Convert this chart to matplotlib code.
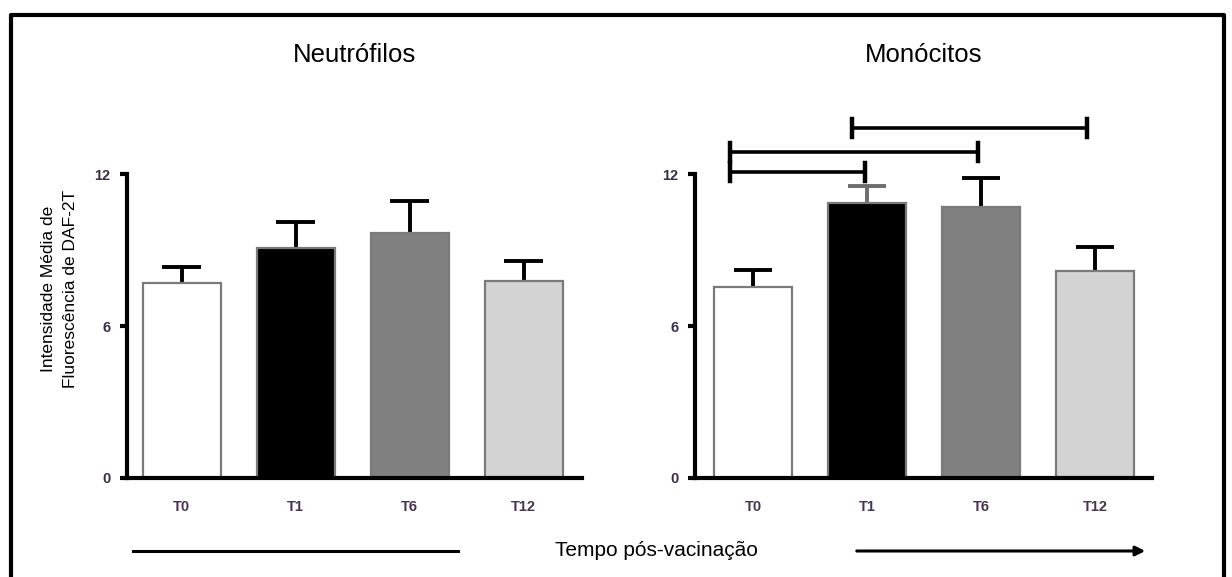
import matplotlib.pyplot as plt
from matplotlib.lines import Line2D
from matplotlib.patches import FancyArrowPatch

plt.rcParams['font.family'] = ['Liberation Sans', 'DejaVu Sans']

tempos = ['T0', 'T1', 'T6', 'T12']
cores = ['white', 'black', '#808080', '#d3d3d3']

# media e erro padrao da fluorescencia DAF-2T
neutro_media = [7.70, 9.08, 9.67, 7.78]
neutro_erro = [0.63, 1.03, 1.27, 0.79]
mono_media = [7.54, 10.86, 10.70, 8.17]
mono_erro = [0.67, 0.67, 1.14, 0.95]

# comparacoes significativas (monocitos): inicio, fim, altura
mono_sig = [(-0.2, 0.98, 12.08), (-0.2, 1.97, 12.87), (0.87, 2.93, 13.82)]

fig = plt.figure(figsize=(12.32, 5.77), dpi=100)

ax1 = fig.add_axes([0.1031, 0.1716, 0.3693, 0.5268])
ax2 = fig.add_axes([0.5641, 0.1716, 0.3709, 0.5268])


def painel(ax, media, erro, titulo, xlim, cor_erro):
    x = list(range(len(tempos)))
    ax.bar(x, media, width=0.68, color=cores, edgecolor='#7a7a7a',
           linewidth=1.6, zorder=2)
    # so a metade superior do erro
    for i in x:
        topo = media[i] + erro[i]
        ax.plot([i, i], [media[i], topo], color=cor_erro[i], lw=2.8,
                zorder=1, solid_capstyle='butt')
        ax.plot([i - 0.17, i + 0.17], [topo, topo], color=cor_erro[i],
                lw=2.8, zorder=1, solid_capstyle='butt')
    ax.set_xlim(*xlim)
    ax.set_ylim(0, 12)
    ax.set_yticks([0, 6, 12])
    ax.set_yticklabels(['0', '6', '12'], fontsize=10.5, fontweight='bold',
                       color='#3d2d48')
    ax.set_xticks(x)
    ax.set_xticklabels(tempos, fontsize=10.5, fontweight='bold',
                       color='#4a3550')
    ax.tick_params(axis='y', length=5, width=3, pad=7)
    ax.tick_params(axis='x', length=0, pad=16)
    for s in ['top', 'right']:
        ax.spines[s].set_visible(False)
    for s in ['left', 'bottom']:
        ax.spines[s].set_linewidth(3)
    ax.text(sum(xlim) / 2, 16.7, titulo, ha='center', va='center',
            fontsize=18.5)


painel(ax1, neutro_media, neutro_erro, 'Neutrófilos', (-0.48, 3.51),
       ['black'] * 4)
painel(ax2, mono_media, mono_erro, 'Monócitos', (-0.51, 3.50),
       ['black', '#6e6e6e', 'black', 'black'])

for x0, x1, y in mono_sig:
    ax2.plot([x0, x1], [y, y], color='black', lw=2.6, clip_on=False)
    for xx in (x0, x1):
        ax2.plot([xx, xx], [y - 0.36, y + 0.36], color='black', lw=3.2,
                 clip_on=False)

fig.text(0.048, 0.50, 'Intensidade Média de\nFluorescência de DAF-2T',
         rotation=90, ha='center', va='center', fontsize=12.5,
         linespacing=1.6)

# eixo do tempo pos-vacinacao
fig.add_artist(Line2D([133 / 1232, 458 / 1232], [1 - 551 / 577] * 2,
                      color='black', lw=2.2))
fig.text(656 / 1232, 1 - 550 / 577, 'Tempo pós-vacinação', ha='center',
         va='center', fontsize=15)
fig.add_artist(FancyArrowPatch((854 / 1232, 1 - 551 / 577),
                               (1148 / 1232, 1 - 551 / 577),
                               transform=fig.transFigure, arrowstyle='-|>',
                               mutation_scale=14, color='black', lw=2.2))

# moldura
fig.add_artist(Line2D([11 / 1232, 11 / 1232, 1224 / 1232, 1224 / 1232],
                      [0, 1 - 15 / 577, 1 - 15 / 577, 0],
                      color='black', lw=3))

fig.savefig('out.png', dpi=100)
